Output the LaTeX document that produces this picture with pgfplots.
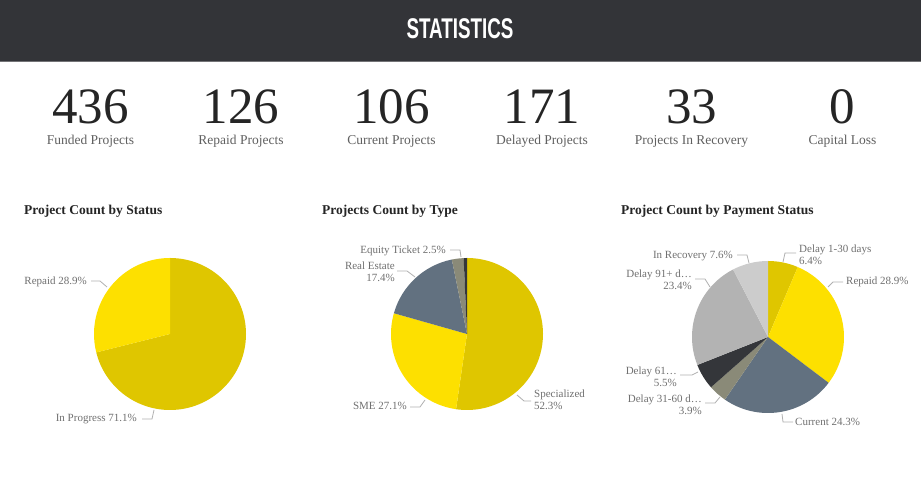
\documentclass[border=0pt]{standalone}
\usepackage{fontspec}
\setmainfont{Liberation Serif}
\newfontfamily\hdrfont{Liberation Sans}
\usepackage{graphicx}
\usepackage{pgfplots}
\pgfplotsset{compat=1.18}
\usepgfplotslibrary{polar}
\definecolor{hdr}{RGB}{51,52,56}
\definecolor{hdrline}{RGB}{115,115,118}
\definecolor{numc}{RGB}{37,37,37}
\definecolor{kpic}{RGB}{96,96,96}
\definecolor{labc}{RGB}{112,112,112}
\definecolor{leadc}{RGB}{176,176,176}
\definecolor{ydark}{RGB}{223,198,0}
\definecolor{ybright}{RGB}{253,224,0}
\definecolor{slate}{RGB}{98,113,128}
\definecolor{olive}{RGB}{138,138,120}
\definecolor{darkc}{RGB}{52,54,58}
\definecolor{gmid}{RGB}{179,179,179}
\definecolor{glight}{RGB}{204,204,204}
\pgfplotsset{pie/.style={hide axis, clip=false, x=1bp, y=1bp,
  xmin=-120, xmax=120, ymin=-100, ymax=100, anchor=center}}
\tikzset{lab/.style={font=\fontsize{11bp}{13bp}\selectfont, text=labc, inner sep=0pt},
  leader/.style={draw=leadc, line width=0.8bp, mark=none},
  num/.style={font=\fontsize{51bp}{58bp}\selectfont, text=numc, inner sep=0pt, anchor=base},
  kpi/.style={font=\fontsize{13.5bp}{16bp}\selectfont, text=kpic, inner sep=0pt, anchor=base},
  ttl/.style={font=\bfseries\fontsize{13.5bp}{16bp}\selectfont, text=numc, inner sep=0pt, anchor=base west}}
\begin{document}
\begin{tikzpicture}[x=1bp,y=1bp]
\fill[white] (0,0) rectangle (921,477);
\fill[hdr] (0,416) rectangle (921,477);
\fill[hdrline] (0,414.5) rectangle (921,416);
\node[text=white, inner sep=0pt, font=\hdrfont\bfseries\fontsize{28.5bp}{30bp}\selectfont] at (460,448) {\scalebox{0.66}[1]{STATISTICS}};
% KPIs
\node[num] at (90.5,353) {436};   \node[kpi] at (90.5,332) {Funded Projects};
\node[num] at (241,353) {126};    \node[kpi] at (241,332) {Repaid Projects};
\node[num] at (391.5,353) {106};  \node[kpi] at (391.5,332) {Current Projects};
\node[num] at (542,353) {171};    \node[kpi] at (542,332) {Delayed Projects};
\node[num] at (691.5,353) {33};   \node[kpi] at (691.5,332) {Projects In Recovery};
\node[num] at (842.5,353) {0};    \node[kpi] at (842.5,332) {Capital Loss};
% titles
\node[ttl] at (24,262) {Project Count by Status};
\node[ttl] at (322,262) {Projects Count by Type};
\node[ttl] at (621,262) {Project Count by Payment Status};
% Pie 1: In Progress 71.1, Repaid 28.9
\begin{axis}[pie, at={(170,143)}]
\addplot[fill=ydark, draw=none, data cs=polar] coordinates {(90,0) (90,76)} arc[start angle=90, end angle=-165.96, radius=76bp] -- cycle;
\addplot[fill=ybright, draw=none, data cs=polar] coordinates {(-165.96,0) (-165.96,76)} arc[start angle=-165.96, end angle=-270, radius=76bp] -- cycle;
\addplot[leader] coordinates {(-79,53) (-70,53) (-63,47)};
\addplot[leader] coordinates {(-28,-85) (-18,-85) (-16,-76)};
\node[lab, anchor=base east] at (axis cs:-83,49) {Repaid 28.9\%};
\node[lab, anchor=base east] at (axis cs:-33,-88) {In Progress 71.1\%};
\end{axis}
% Pie 2: Specialized 52.3, SME 27.1, Real Estate 17.4, Equity Ticket 2.5, other 0.7
\begin{axis}[pie, at={(467,143)}]
\addplot[fill=ydark, draw=none, data cs=polar] coordinates {(90,0) (90,76)} arc[start angle=90, end angle=-98.28, radius=76bp] -- cycle;
\addplot[fill=ybright, draw=none, data cs=polar] coordinates {(-98.28,0) (-98.28,76)} arc[start angle=-98.28, end angle=-195.84, radius=76bp] -- cycle;
\addplot[fill=slate, draw=none, data cs=polar] coordinates {(-195.84,0) (-195.84,76)} arc[start angle=-195.84, end angle=-258.48, radius=76bp] -- cycle;
\addplot[fill=olive, draw=none, data cs=polar] coordinates {(-258.48,0) (-258.48,76)} arc[start angle=-258.48, end angle=-267.48, radius=76bp] -- cycle;
\addplot[fill=darkc, draw=none, data cs=polar] coordinates {(-267.48,0) (-267.48,76)} arc[start angle=-267.48, end angle=-270, radius=76bp] -- cycle;
\addplot[leader] coordinates {(-17,84) (-7,84) (-6,77)};
\addplot[leader] coordinates {(-70,63) (-60,63) (-52,57)};
\addplot[leader] coordinates {(-57,-73) (-47,-73) (-42,-66)};
\addplot[leader] coordinates {(50,-61) (57,-67) (64,-67)};
\node[lab, anchor=base east] at (axis cs:-21,80) {Equity Ticket 2.5\%};
\node[lab, anchor=base east] at (axis cs:-72,64) {Real Estate};
\node[lab, anchor=base east] at (axis cs:-72,52.5) {17.4\%};
\node[lab, anchor=base east] at (axis cs:-60,-76) {SME 27.1\%};
\node[lab, anchor=base west] at (axis cs:67,-64) {Specialized};
\node[lab, anchor=base west] at (axis cs:67,-75.5) {52.3\%};
\end{axis}
% Pie 3
\begin{axis}[pie, at={(768,140)}]
\addplot[fill=ydark, draw=none, data cs=polar] coordinates {(90,0) (90,76)} arc[start angle=90, end angle=66.96, radius=76bp] -- cycle;
\addplot[fill=ybright, draw=none, data cs=polar] coordinates {(66.96,0) (66.96,76)} arc[start angle=66.96, end angle=-37.08, radius=76bp] -- cycle;
\addplot[fill=slate, draw=none, data cs=polar] coordinates {(-37.08,0) (-37.08,76)} arc[start angle=-37.08, end angle=-124.56, radius=76bp] -- cycle;
\addplot[fill=olive, draw=none, data cs=polar] coordinates {(-124.56,0) (-124.56,76)} arc[start angle=-124.56, end angle=-138.6, radius=76bp] -- cycle;
\addplot[fill=darkc, draw=none, data cs=polar] coordinates {(-138.6,0) (-138.6,76)} arc[start angle=-138.6, end angle=-158.4, radius=76bp] -- cycle;
\addplot[fill=gmid, draw=none, data cs=polar] coordinates {(-158.4,0) (-158.4,76)} arc[start angle=-158.4, end angle=-242.64, radius=76bp] -- cycle;
\addplot[fill=glight, draw=none, data cs=polar] coordinates {(-242.64,0) (-242.64,76)} arc[start angle=-242.64, end angle=-270, radius=76bp] -- cycle;
\addplot[leader] coordinates {(15,75) (17,84) (28,84)};
\addplot[leader] coordinates {(60,50) (65,55) (75,55)};
\addplot[leader] coordinates {(14,-77) (15,-85) (25,-85)};
\addplot[leader] coordinates {(-63,-66) (-53,-66) (-48,-60)};
\addplot[leader] coordinates {(-88,-38) (-76,-38) (-70,-35)};
\addplot[leader] coordinates {(-73,58) (-63,58) (-58,50)};
\addplot[leader] coordinates {(-31,82) (-21,82) (-19,74)};
\node[lab, anchor=base west] at (axis cs:31,84) {Delay 1-30 days};
\node[lab, anchor=base west] at (axis cs:31,72.5) {6.4\%};
\node[lab, anchor=base west] at (axis cs:78,52) {Repaid 28.9\%};
\node[lab, anchor=base west] at (axis cs:27,-89) {Current 24.3\%};
\node[lab, anchor=base east] at (axis cs:-66,-66) {Delay 31-60 d…};
\node[lab, anchor=base east] at (axis cs:-66,-77.5) {3.9\%};
\node[lab, anchor=base east] at (axis cs:-91,-38) {Delay 61…};
\node[lab, anchor=base east] at (axis cs:-91,-49.5) {5.5\%};
\node[lab, anchor=base east] at (axis cs:-76,59) {Delay 91+ d…};
\node[lab, anchor=base east] at (axis cs:-76,47.5) {23.4\%};
\node[lab, anchor=base east] at (axis cs:-35,78) {In Recovery 7.6\%};
\end{axis}
\end{tikzpicture}
\end{document}
